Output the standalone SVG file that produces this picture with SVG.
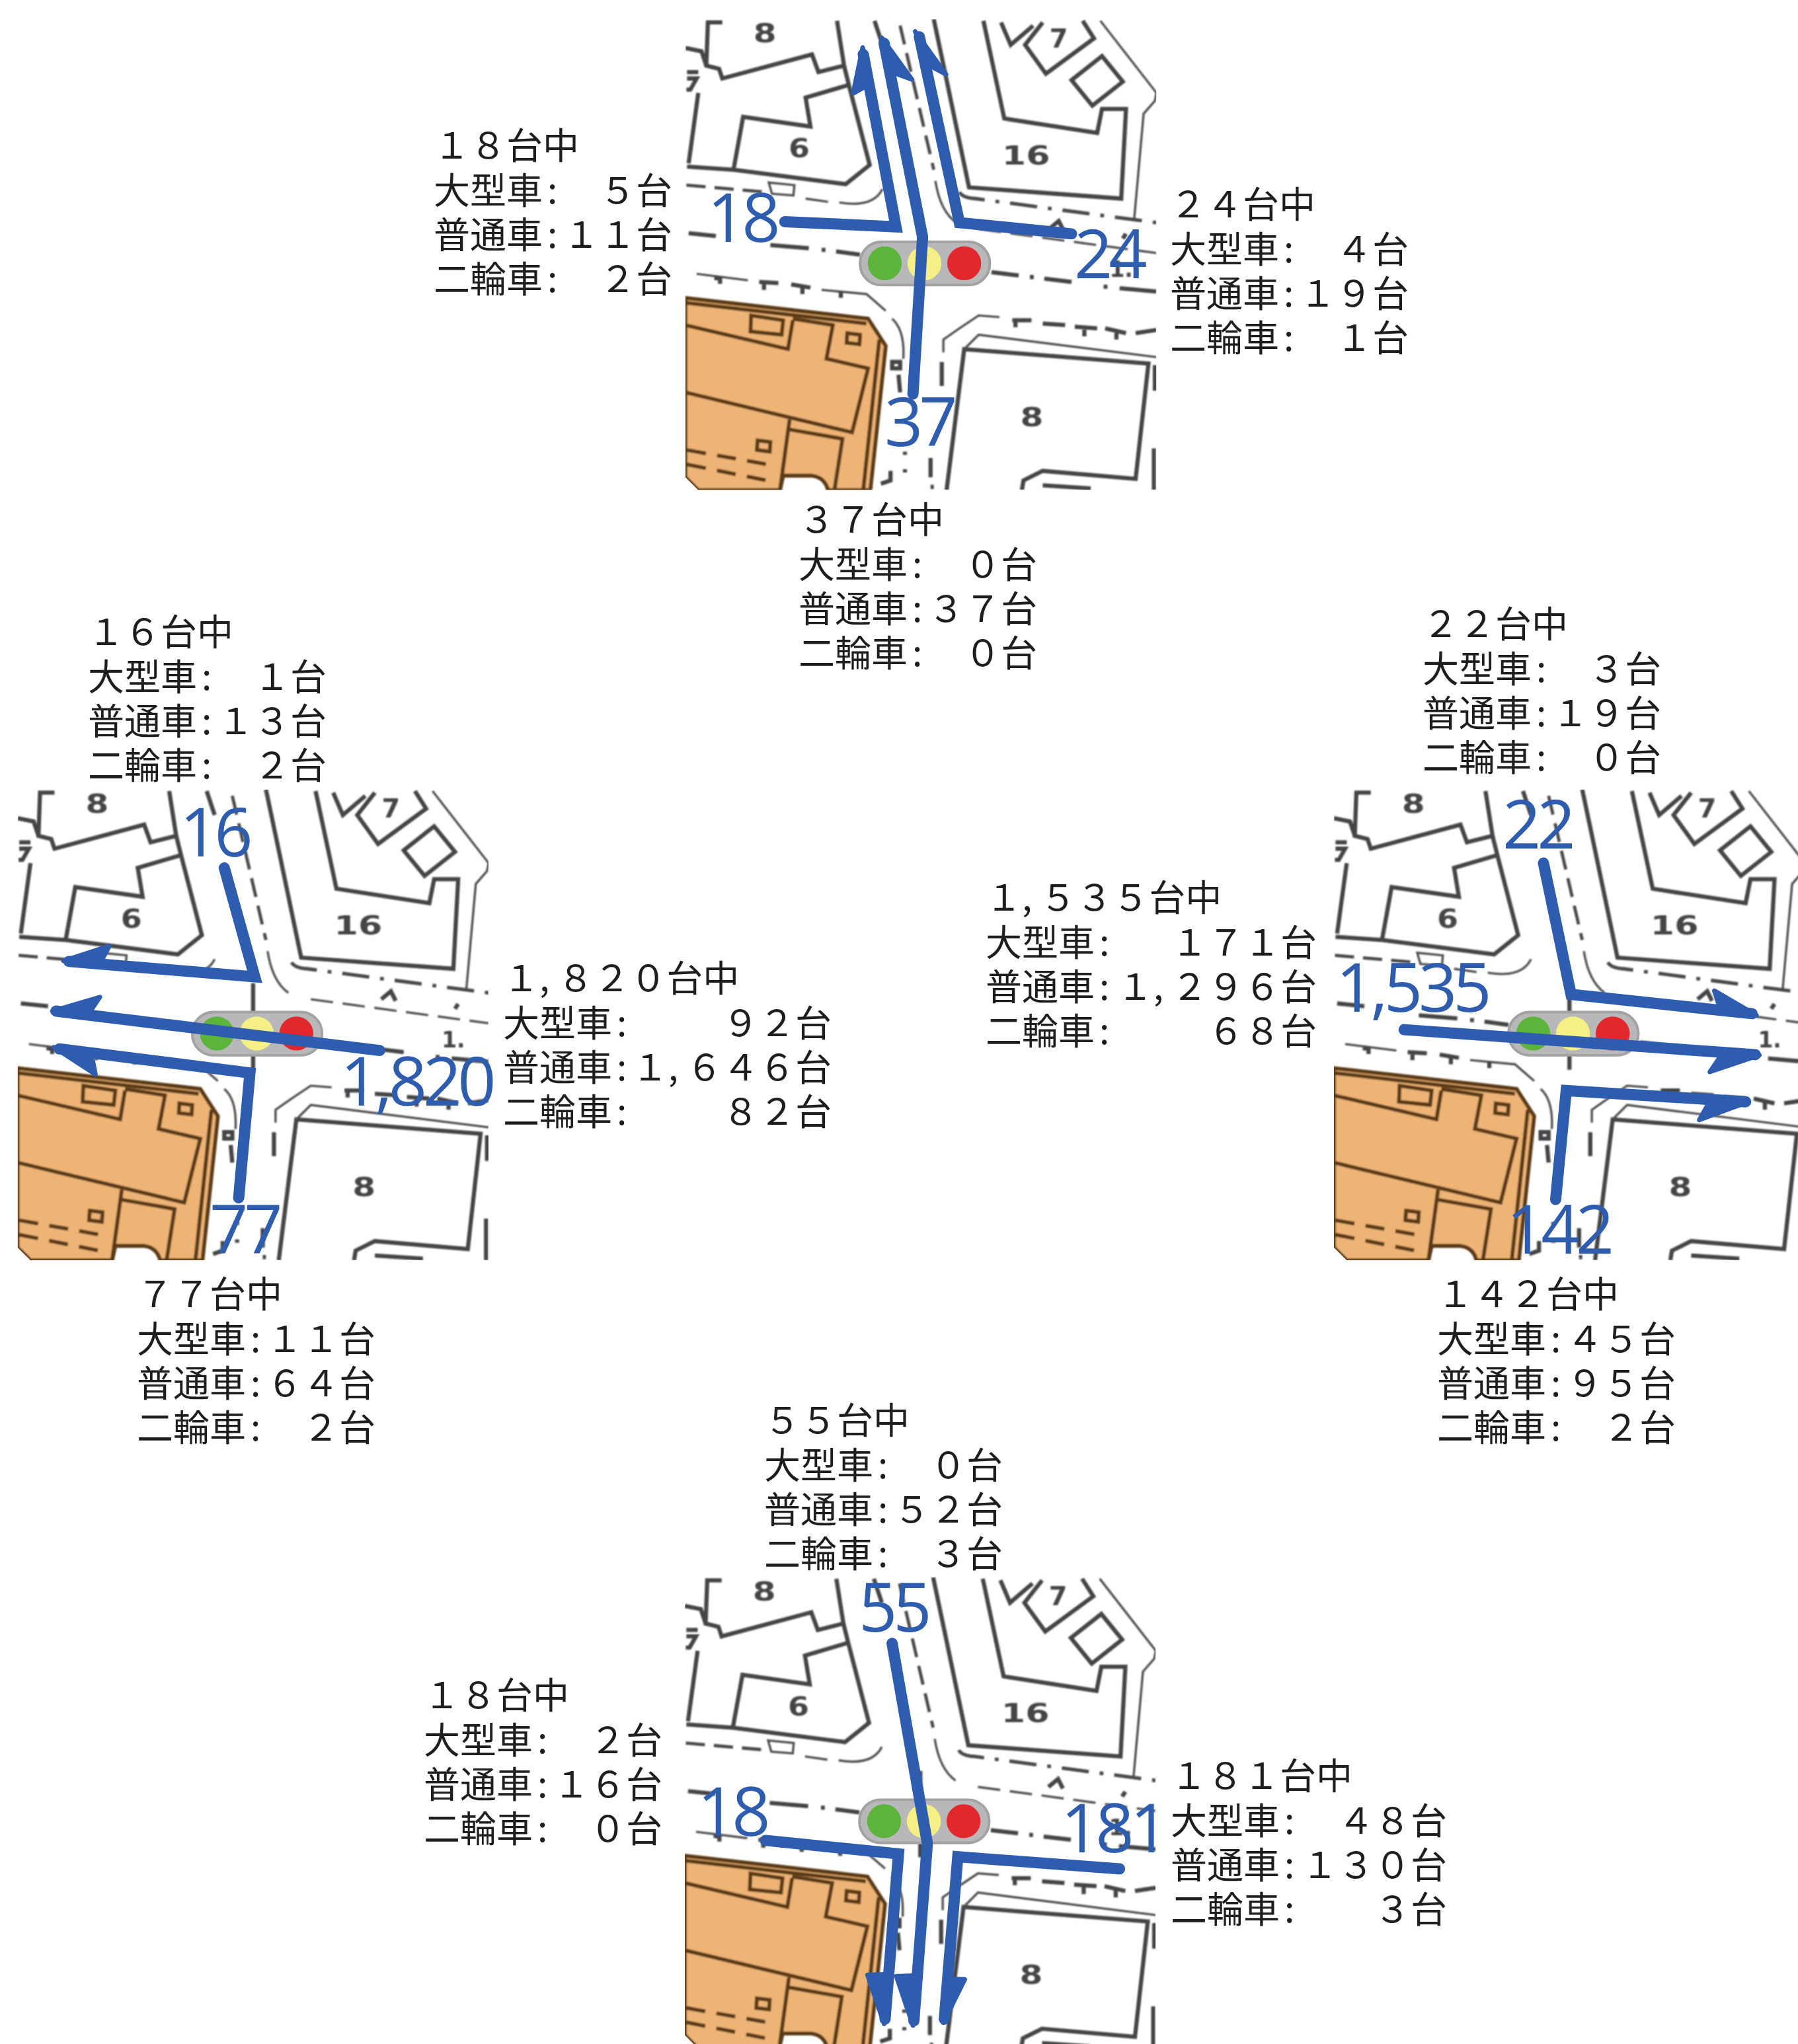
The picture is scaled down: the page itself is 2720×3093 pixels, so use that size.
<svg xmlns="http://www.w3.org/2000/svg" width="2720" height="3093" viewBox="0 0 2720 3093">
<style>
text{font-family:"Noto Sans CJK JP","Liberation Sans",sans-serif}
.c text{font-size:55px;fill:#1e1e1e}
.c .r{text-anchor:end}
.n{font-family:"Open Sans","Noto Sans",sans-serif!important;font-size:102px;fill:#2e5cae;letter-spacing:-6px}
.a{fill:none;stroke:#2e5cae;stroke-width:35;stroke-linejoin:miter;stroke-linecap:round;stroke-miterlimit:3}
.f{fill:#2e5cae;stroke:#2e5cae;stroke-width:14;stroke-linejoin:round}
.l{fill:none;stroke:#454545;stroke-width:13}
.t{fill:none;stroke:#505050;stroke-width:7}
.d{fill:none;stroke:#484848;stroke-width:10;stroke-dasharray:60 28}
.dd{fill:none;stroke:#484848;stroke-width:11;stroke-dasharray:85 34 12 34}
.b{fill:none;stroke:#5a3a18;stroke-width:12}
.h{font-family:"DejaVu Sans",sans-serif!important;font-weight:700;fill:#444;font-size:82px;text-anchor:middle}
</style>
<defs>
<clipPath id="mc"><path d="M35,60H1505V1530H75L35,1490Z"/></clipPath>
<filter id="soft" x="-2%" y="-2%" width="104%" height="104%"><feGaussianBlur stdDeviation="2.4"/></filter>
<g id="map" clip-path="url(#mc)">
<rect x="35" y="60" width="1470" height="1470" fill="#fff"/>
<g filter="url(#soft)">
<path d="M35,930L605,995L660,1080L612,1530H480Q470,1490 430,1485H340L330,1530H75L35,1490Z" fill="#eeb476" stroke="#5a3a18" stroke-width="12"/>
<path class="b" d="M640,1060L590,1530M35,945L600,1010"/>
<path class="b" d="M35,1015L355,1090L370,1000M240,985L340,1000L335,1045L238,1035ZM370,995L495,1015L475,1120L605,1150L555,1350L35,1225M360,1310L330,1530M355,1340L525,1370L500,1530"/>
<path class="b" d="M540,1040L580,1045L578,1075L538,1070ZM260,1375L300,1380L298,1410L258,1405Z"/>
<path class="b" stroke-dasharray="60 35" d="M40,1405L320,1455M40,1450L290,1500"/>
<path class="l" d="M150,70H105L100,205L140,215L150,245L430,170L450,225L530,205L508,65M35,150L85,160L100,205"/>
<path class="l" d="M75,290L45,510M40,520L185,530L215,365L425,395L410,305L545,265M530,205L545,265L610,515L535,575L185,530"/>
<path class="t" d="M295,570L375,578L372,610L305,605Z"/>
<path class="d" d="M38,578L290,600"/>
<path class="t" d="M410,620L480,630M515,632Q620,650 650,590"/>
<path class="l" d="M45,728L130,737M300,765L420,775M505,785L580,795M990,850L1075,860M1155,870L1240,880M1390,900L1505,910"/>
<path class="l" stroke-width="16" d="M460,780h12M1110,865h12M1340,895h12"/>
<path class="t" d="M70,855L230,875M460,905L600,918L660,970M680,995Q720,1030 715,1120"/>
<path class="l" d="M125,868l18,2v16M265,880l60,4M280,885v20M365,888l60,10M400,898v20M520,910v20M680,1130h25v20h-25ZM700,1170L705,1225"/>
<path class="l" d="M625,65L650,140M965,65L1030,370L1320,415L1335,340L1410,340L1395,620L920,585L850,250L810,60"/>
<path class="t" d="M1330,65L1505,290L1500,315L1465,355L1435,690"/>
<path class="l" d="M1240,250L1335,175L1400,255L1305,330ZM1275,65L1310,120L1160,230L1095,140L1150,70M1020,70L1050,140L1120,80"/>
<path class="d" d="M705,80L810,530"/>
<path class="t" d="M815,565Q830,660 880,695"/>
<path class="dd" d="M890,600Q900,618 940,620L1505,695"/>
<path class="t" stroke-dasharray="70 30" d="M950,715L1505,790"/>
<path class="l" d="M1170,715l30,-25l15,30M1400,745l10,-15"/>
<path class="t" d="M840,1100V1060L890,1025L950,985L1015,990"/>
<path class="l" stroke-width="9" d="M1055,1000H1115M1065,1000v22M1150,1010L1220,1015M1250,1020L1320,1025M1280,1025v25M1345,1025L1410,1040M1380,1035v25M1440,1040L1505,1030M835,1130V1205M800,1430v60M720,1410v10M720,1465v10M645,1510l30,-10v-30M800,1520h10"/>
<path class="l" d="M850,1530L905,1090L1480,1135L1440,1495L1150,1470L1090,1500L1085,1530M1150,1515L1300,1525"/>
<path class="t" d="M905,1090L950,1045L1505,1115"/>
<path class="l" stroke="#888" d="M1500,1140V1220M1497,1400V1530"/>
<path class="l" d="M40,225H75M40,245H70L50,280H38M770,665V755M770,890V935"/>
<text class="h" x="283" y="133" textLength="72" lengthAdjust="spacingAndGlyphs">8</text>
<text class="h" x="390" y="492" textLength="66" lengthAdjust="spacingAndGlyphs">6</text>
<text class="h" x="1098" y="513" textLength="150" lengthAdjust="spacingAndGlyphs">16</text>
<text class="h" x="1200" y="148">7</text>
<text class="h" x="1116" y="1330" textLength="72" lengthAdjust="spacingAndGlyphs">8</text>
<text class="h" x="1395" y="865" style="font-size:68px">1.</text>
</g>
<rect x="580" y="755" width="405" height="135" rx="66" fill="#b8b8ba" stroke="#a2a2a4" stroke-width="8"/>
<circle cx="657" cy="822" r="53" fill="#5cb43b"/>
<circle cx="781" cy="822" r="53" fill="#f5ef85"/>
<circle cx="905" cy="822" r="53" fill="#e3282d"/>
</g>
</defs>

<rect width="2720" height="3093" fill="#fff"/>

<g id="map-top" transform="translate(1020,0) scale(.4847)"><use href="#map"/></g>
<g id="map-left" transform="translate(9.7,1165.5) scale(.4847)"><use href="#map"/></g>
<g id="map-right" transform="translate(2001,1165.5) scale(.4847)"><use href="#map"/></g>
<g id="map-bottom" transform="translate(1019,2357.4) scale(.4847)"><use href="#map"/></g>

<g id="connectors">
<g transform="translate(1020,0) scale(.4847)">
<path class="a" d="M345,692L692,708L590,170"/><path class="f" d="M588,148L558,292L612,262Z"/>
<path class="a" d="M745,1230L775,740L655,135"/><path class="f" d="M648,118L742,248L678,225Z"/>
<path class="a" d="M1240,730L890,695L765,115"/><path class="f" d="M752,98L848,232L788,200Z"/>
</g>
<g transform="translate(9.7,1165.5) scale(.4847)">
<path class="a" d="M680,305L775,645L195,597"/><path class="f" d="M178,595L322,548L292,603Z"/>
<path class="a" d="M1165,875L155,752"/><path class="f" d="M143,752L292,708L252,768Z"/>
<path class="a" d="M725,1335L760,945L165,870"/><path class="f" d="M148,865L278,950L270,908Z"/>
</g>
<g transform="translate(2001,1165.5) scale(.4847)">
<path class="a" d="M689,290L775,700L1340,760"/><path class="f" d="M1354,765L1222,688L1240,745Z"/>
<path class="a" d="M254,810L1350,888"/><path class="f" d="M1363,890L1208,942L1238,898Z"/>
<path class="a" d="M727,1340L760,1000L1320,1035"/><path class="f" d="M1330,1035L1175,1092L1210,1030Z"/>
</g>
<g transform="translate(1019,2357.4) scale(.4847)">
<path class="a" d="M682,267L792,891L750,1445"/><path class="f" d="M747,1460L695,1306L752,1304Z"/>
<path class="a" d="M287,882L702,924L660,1440"/><path class="f" d="M657,1455L605,1302L667,1300Z"/>
<path class="a" d="M1392,971L887,933L845,1440"/><path class="f" d="M842,1451L909,1316L852,1314Z"/>
</g>
</g>

<g id="flow-labels">
<text class="n" x="1070" y="366">18</text>
<text class="n" x="1625" y="421">24</text>
<text class="n" x="1338" y="675">37</text>
<text class="n" x="272" y="1296">16</text>
<text class="n" x="515" y="1673">1,820</text>
<text class="n" x="317" y="1897">77</text>
<text class="n" x="2273" y="1284">22</text>
<text class="n" x="2021" y="1531">1,535</text>
<text class="n" x="2279" y="1897">142</text>
<text class="n" x="1299" y="2469">55</text>
<text class="n" x="1055" y="2778">18</text>
<text class="n" x="1605" y="2803">181</text>
</g>

<g id="count-top-left" class="c" transform="translate(656,240)"><text>１８台中</text><text y="68">大型車<tspan dx="7">:</tspan></text><text class="r" x="361" y="68">５台</text><text y="135">普通車<tspan dx="7">:</tspan></text><text class="r" x="361" y="135">１１台</text><text y="202">二輪車<tspan dx="7">:</tspan></text><text class="r" x="361" y="202">２台</text></g>
<g id="count-top-right" class="c" transform="translate(1770,329)"><text>２４台中</text><text y="68">大型車<tspan dx="7">:</tspan></text><text class="r" x="361" y="68">４台</text><text y="135">普通車<tspan dx="7">:</tspan></text><text class="r" x="361" y="135">１９台</text><text y="202">二輪車<tspan dx="7">:</tspan></text><text class="r" x="361" y="202">１台</text></g>
<g id="count-top-bottom" class="c" transform="translate(1208,806)"><text>３７台中</text><text y="68">大型車<tspan dx="7">:</tspan></text><text class="r" x="361" y="68">０台</text><text y="135">普通車<tspan dx="7">:</tspan></text><text class="r" x="361" y="135">３７台</text><text y="202">二輪車<tspan dx="7">:</tspan></text><text class="r" x="361" y="202">０台</text></g>
<g id="count-left-top" class="c" transform="translate(133,976)"><text>１６台中</text><text y="68">大型車<tspan dx="7">:</tspan></text><text class="r" x="361" y="68">１台</text><text y="135">普通車<tspan dx="7">:</tspan></text><text class="r" x="361" y="135">１３台</text><text y="202">二輪車<tspan dx="7">:</tspan></text><text class="r" x="361" y="202">２台</text></g>
<g id="count-left-right" class="c" transform="translate(761,1500)"><text>１,<tspan dx="12">８２０台中</tspan></text><text y="68">大型車<tspan dx="7">:</tspan></text><text class="r" x="497" y="68">９２台</text><text y="135">普通車<tspan dx="7">:</tspan></text><text class="r" x="497" y="135">１,<tspan dx="12">６４６台</tspan></text><text y="202">二輪車<tspan dx="7">:</tspan></text><text class="r" x="497" y="202">８２台</text></g>
<g id="count-left-bottom" class="c" transform="translate(207,1978)"><text>７７台中</text><text y="68">大型車<tspan dx="7">:</tspan></text><text class="r" x="361" y="68">１１台</text><text y="135">普通車<tspan dx="7">:</tspan></text><text class="r" x="361" y="135">６４台</text><text y="202">二輪車<tspan dx="7">:</tspan></text><text class="r" x="361" y="202">２台</text></g>
<g id="count-right-top" class="c" transform="translate(2152,964)"><text>２２台中</text><text y="68">大型車<tspan dx="7">:</tspan></text><text class="r" x="361" y="68">３台</text><text y="135">普通車<tspan dx="7">:</tspan></text><text class="r" x="361" y="135">１９台</text><text y="202">二輪車<tspan dx="7">:</tspan></text><text class="r" x="361" y="202">０台</text></g>
<g id="count-right-left" class="c" transform="translate(1491,1378)"><text>１,<tspan dx="12">５３５台中</tspan></text><text y="68">大型車<tspan dx="7">:</tspan></text><text class="r" x="501" y="68">１７１台</text><text y="135">普通車<tspan dx="7">:</tspan></text><text class="r" x="501" y="135">１,<tspan dx="12">２９６台</tspan></text><text y="202">二輪車<tspan dx="7">:</tspan></text><text class="r" x="501" y="202">６８台</text></g>
<g id="count-right-bottom" class="c" transform="translate(2174,1978)"><text>１４２台中</text><text y="68">大型車<tspan dx="7">:</tspan></text><text class="r" x="361" y="68">４５台</text><text y="135">普通車<tspan dx="7">:</tspan></text><text class="r" x="361" y="135">９５台</text><text y="202">二輪車<tspan dx="7">:</tspan></text><text class="r" x="361" y="202">２台</text></g>
<g id="count-bottom-top" class="c" transform="translate(1156,2169)"><text>５５台中</text><text y="68">大型車<tspan dx="7">:</tspan></text><text class="r" x="361" y="68">０台</text><text y="135">普通車<tspan dx="7">:</tspan></text><text class="r" x="361" y="135">５２台</text><text y="202">二輪車<tspan dx="7">:</tspan></text><text class="r" x="361" y="202">３台</text></g>
<g id="count-bottom-left" class="c" transform="translate(641,2585)"><text>１８台中</text><text y="68">大型車<tspan dx="7">:</tspan></text><text class="r" x="361" y="68">２台</text><text y="135">普通車<tspan dx="7">:</tspan></text><text class="r" x="361" y="135">１６台</text><text y="202">二輪車<tspan dx="7">:</tspan></text><text class="r" x="361" y="202">０台</text></g>
<g id="count-bottom-right" class="c" transform="translate(1771,2707)"><text>１８１台中</text><text y="68">大型車<tspan dx="7">:</tspan></text><text class="r" x="418" y="68">４８台</text><text y="135">普通車<tspan dx="7">:</tspan></text><text class="r" x="418" y="135">１３０台</text><text y="202">二輪車<tspan dx="7">:</tspan></text><text class="r" x="418" y="202">３台</text></g>
</svg>
